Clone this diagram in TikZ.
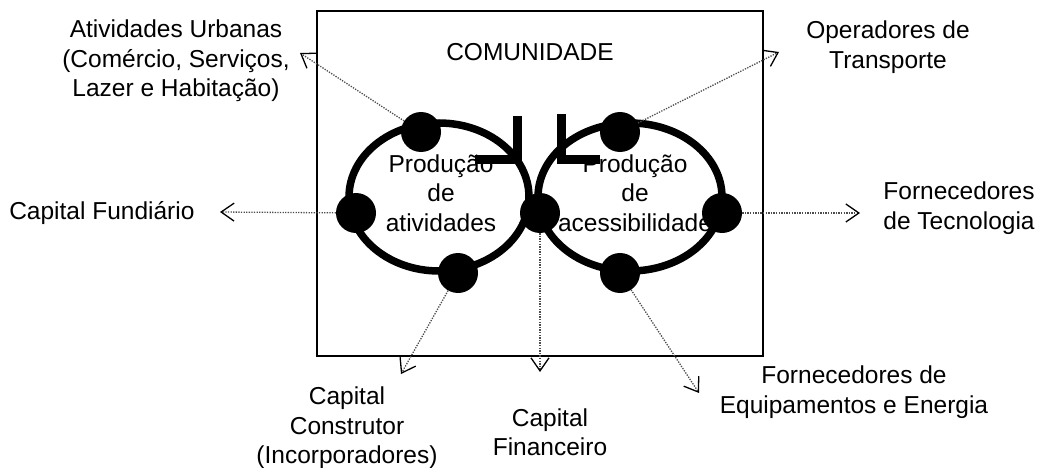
\documentclass[tikz,border=0pt]{standalone}
\usepackage{fontspec}
\setmainfont{Liberation Sans}
\usetikzlibrary{arrows.meta}

\tikzset{
  bola/.style={circle, fill=black, inner sep=0pt, minimum size=40pt},
  seta/.style={gray!60!black, line width=1.3pt, dash pattern=on 1.3pt off 1.3pt,
    -{Straight Barb[length=13pt,width=18pt,black,line width=1.3pt]}},
  rotulo/.style={align=center, font=\fontsize{24.5}{29.5}\selectfont},
}

\begin{document}
\begin{tikzpicture}[x=1pt,y=-1pt]
          \useasboundingbox (0,0) rectangle (1041,468);
          \draw[line width=1.5pt] (317,11) rectangle (763,356);
          \node[rotulo] (comunidade) at (530,52) {COMUNIDADE};
          \draw[line width=7.5pt] (439,197) ellipse (90pt and 74pt);
          \draw[line width=7.5pt] (630,197) ellipse (92pt and 74pt);
          \node[bola] (ativTop) at (421,132) {};
          \node[bola] (ativEsq) at (356,213) {};
          \node[bola] (meio) at (540,213) {};
          \node[bola] (ativBaixo) at (458,273) {};
          \node[bola] (acesTop) at (620,132) {};
          \node[bola] (acesDir) at (722,213) {};
          \node[bola] (acesBaixo) at (620,273) {};
          \node[rotulo] (ativ) at (441,193) {Produção\\de\\atividades};
          \node[rotulo] (aces) at (635,193) {Produção\\de\\acessibilidade};
          \draw[line width=9pt] (517,116) -- (517,159) -- (475,159);
          \draw[line width=9pt] (561,114) -- (561,159) -- (600,159);
          \node[rotulo] (urbanas) at (176,61) {Atividades Urbanas\\(Comércio, Serviços,\\Lazer e Habitação)};
          \node[rotulo] (operadores) at (888,47) {Operadores de\\Transporte};
          \node[rotulo, anchor=east] (fundiario) at (198,213) {Capital Fundiário};
          \node[rotulo] (tecnologia) at (959,208) {Fornecedores\\de Tecnologia};
          \node[rotulo] (construtor) at (347,428) {Capital\\Construtor\\(Incorporadores)};
          \node[rotulo] (financeiro) at (550,432) {Capital\\Financeiro};
          \node[rotulo] (equipamentos) at (854,392) {Fornecedores de\\Equipamentos e Energia};
          \coordinate (pUrbanas) at (300,53);
          \coordinate (pOperadores) at (779,52);
          \coordinate (pFundiario) at (220,212);
          \coordinate (pTecnologia) at (860,213);
          \coordinate (pConstrutor) at (401,374);
          \coordinate (pFinanceiro) at (540,372);
          \coordinate (pEquip) at (699,393);
          \draw[seta] (ativTop) -- (pUrbanas);
          \draw[seta] (acesTop) -- (pOperadores);
          \draw[seta] (ativEsq) -- (pFundiario);
          \draw[seta] (acesDir) -- (pTecnologia);
          \draw[seta] (ativBaixo) -- (pConstrutor);
          \draw[seta] (meio) -- (pFinanceiro);
          \draw[seta] (acesBaixo) -- (pEquip);
        \end{tikzpicture}
\end{document}
